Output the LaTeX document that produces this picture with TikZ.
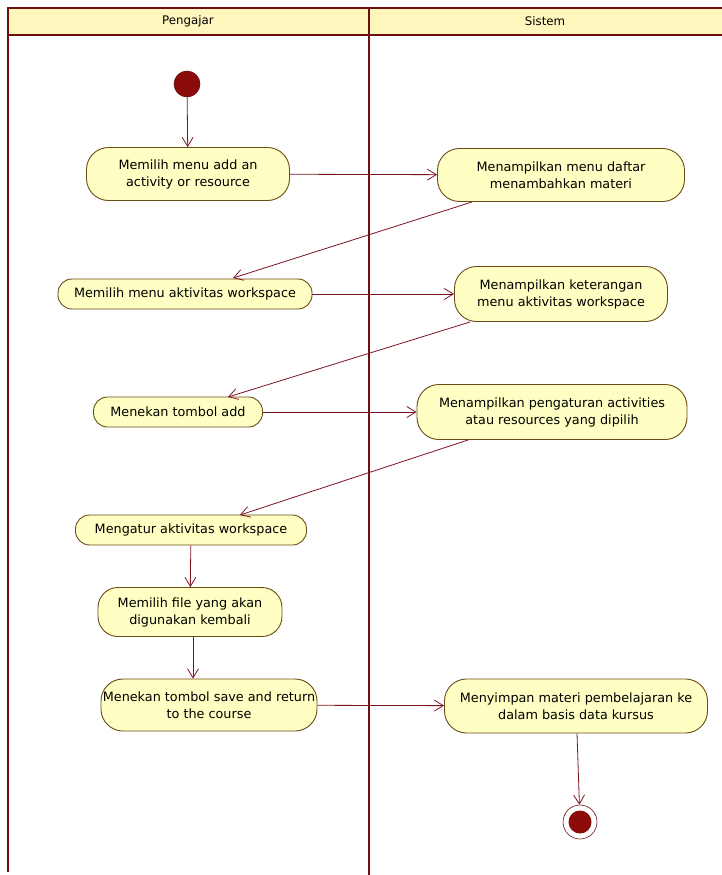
\documentclass[tikz,border=0pt]{standalone}
\usepackage{fontspec}
\setmainfont{DejaVu Sans}
\usetikzlibrary{arrows.meta}
\definecolor{lane}{HTML}{6E0E0E}
\definecolor{hdr}{HTML}{FFF6BE}
\definecolor{actfill}{HTML}{FFFFC4}
\definecolor{actdraw}{HTML}{6B4A1A}
\definecolor{flow}{HTML}{7A1420}
\definecolor{dot}{HTML}{8B0A0A}
\tikzset{
  act/.style={draw=actdraw, fill=actfill, line width=0.9pt, align=center, inner sep=1pt, font=\fontsize{12.8}{17}\selectfont},
  actone/.style={act, rounded corners=14pt, minimum height=30pt},
  acttwo/.style={act, rounded corners=22pt, minimum height=53pt},
  flowarrow/.style={draw=flow, line width=0.8pt, -{Straight Barb[length=9pt,width=11pt]}},
  lanel/.style={draw=lane, line width=2.8pt},
  hdrtext/.style={font=\fontsize{11.8}{14}\selectfont}
}
\begin{document}
\begin{tikzpicture}[x=1pt,y=-1pt]
\useasboundingbox (0,0) rectangle (722,875);
% header
\fill[hdr] (8,8) rectangle (722,35);
\draw[lanel] (723,8) -- (8,8) -- (8,872);
\draw[lane, line width=1.6pt] (8,35) -- (723,35);
\draw[lanel] (369,8) -- (369,875);
\node[hdrtext] (hp) at (188,21) {Pengajar};
\node[hdrtext] (hs) at (545,21) {Sistem};
% nodes
\node[circle, fill=dot, draw=lane, line width=0.6pt, minimum size=26pt, inner sep=0pt] (init) at (187,84) {};
\node[acttwo, minimum width=203pt] (a1) at (188,174) {Memilih menu add an\\activity or resource};
\node[acttwo, minimum width=247pt] (s1) at (561,175) {Menampilkan menu daftar\\menambahkan materi};
\node[actone, minimum width=254pt] (a2) at (185,294) {Memilih menu aktivitas workspace};
\node[acttwo, minimum width=213pt, minimum height=55pt] (s2) at (561,294) {Menampilkan keterangan\\menu aktivitas workspace};
\node[actone, minimum width=169pt] (a3) at (178,412) {Menekan tombol add};
\node[acttwo, minimum width=270pt, minimum height=55pt] (s3) at (552,412) {Menampilkan pengaturan activities\\atau resources yang dipilih};
\node[actone, minimum width=231pt] (a4) at (191,530) {Mengatur aktivitas workspace};
\node[acttwo, minimum width=184pt, minimum height=49pt, rounded corners=20pt] (a5) at (190,612) {Memilih file yang akan\\digunakan kembali};
\node[acttwo, minimum width=216pt, minimum height=52pt] (a6) at (209,705) {Menekan tombol save and return\\to the course};
\node[acttwo, minimum width=263pt, minimum height=54pt] (s4) at (576,706) {Menyimpan materi pembelajaran ke\\dalam basis data kursus};
\node[circle, draw=lane, fill=white, line width=0.6pt, minimum size=34pt, inner sep=0pt] (fin) at (580,822) {};
\node[circle, fill=dot, minimum size=23pt, inner sep=0pt] (finin) at (fin) {};
% connectors
\draw[flowarrow] (init) -- (a1);
\draw[flowarrow] (a1) -- (s1);
\draw[flowarrow] (472,202) coordinate (c1) -- (233,278) coordinate (c1e);
\draw[flowarrow] (a2) -- (s2);
\draw[flowarrow] (470,322) coordinate (c2) -- (228,397) coordinate (c2e);
\draw[flowarrow] (a3) -- (s3);
\draw[flowarrow] (468,440) coordinate (c3) -- (240,515) coordinate (c3e);
\draw[flowarrow] (a4) -- (a5);
\draw[flowarrow] ([xshift=3pt]a5.south) -- ([xshift=3pt]a6.north -| a5.south);
\draw[flowarrow] (a6) -- (s4);
\draw[flowarrow] ([xshift=1pt]s4.south) -- (fin);
\end{tikzpicture}
\end{document}
